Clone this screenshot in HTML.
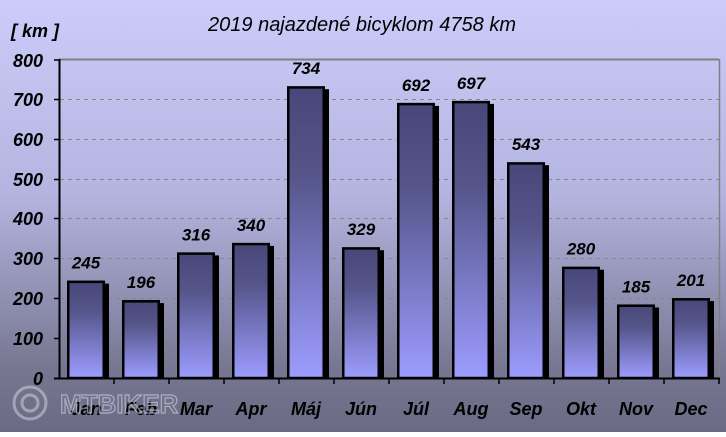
<!DOCTYPE html>
<html><head><meta charset="utf-8"><style>html,body{margin:0;padding:0}body{width:726px;height:432px;overflow:hidden}</style></head><body>
<svg width="726" height="432" xmlns="http://www.w3.org/2000/svg" font-family="Liberation Sans, sans-serif">
<defs>
<linearGradient id="bg" x1="0" y1="0" x2="0" y2="1">
<stop offset="0" stop-color="#ccccfa"/><stop offset="0.45" stop-color="#b4b4e0"/><stop offset="0.85" stop-color="#777792"/><stop offset="1" stop-color="#6a6a84"/></linearGradient>
<linearGradient id="bar" x1="0" y1="0" x2="0" y2="1">
<stop offset="0" stop-color="#47477a"/><stop offset="0.3" stop-color="#55558a"/><stop offset="1" stop-color="#9c9cff"/></linearGradient>
</defs>
<rect width="726" height="432" fill="url(#bg)"/>
<g stroke="#888" stroke-dasharray="4,4" stroke-width="1">
<line x1="60" x2="719" y1="99.5" y2="99.5"/><line x1="60" x2="719" y1="139.5" y2="139.5"/><line x1="60" x2="719" y1="179.5" y2="179.5"/><line x1="60" x2="719" y1="218.5" y2="218.5"/><line x1="60" x2="719" y1="258.5" y2="258.5"/><line x1="60" x2="719" y1="298.5" y2="298.5"/><line x1="60" x2="719" y1="338.5" y2="338.5"/>
</g>
<line x1="59" x2="719" y1="59.5" y2="59.5" stroke="#808080" stroke-width="2"/>
<line x1="719.5" x2="719.5" y1="59" y2="378" stroke="#808080" stroke-width="1.5"/>
<g fill="#000">
<rect x="71" y="283.6" width="38" height="94.4"/>
<rect x="126" y="303.1" width="38" height="74.9"/>
<rect x="181" y="255.4" width="38" height="122.6"/>
<rect x="236" y="245.9" width="38" height="132.1"/>
<rect x="291" y="89.2" width="38" height="288.8"/>
<rect x="346" y="250.2" width="38" height="127.8"/>
<rect x="401" y="105.9" width="38" height="272.1"/>
<rect x="456" y="103.9" width="38" height="274.1"/>
<rect x="511" y="165.2" width="38" height="212.8"/>
<rect x="566" y="269.7" width="38" height="108.3"/>
<rect x="621" y="307.5" width="38" height="70.5"/>
<rect x="676" y="301.1" width="38" height="76.9"/>
</g>
<g fill="url(#bar)" stroke="#000" stroke-width="2.5">
<rect x="68.25" y="281.8" width="35.5" height="96.2"/>
<rect x="123.25" y="301.3" width="35.5" height="76.7"/>
<rect x="178.25" y="253.6" width="35.5" height="124.4"/>
<rect x="233.25" y="244.1" width="35.5" height="133.9"/>
<rect x="288.25" y="87.4" width="35.5" height="290.6"/>
<rect x="343.25" y="248.4" width="35.5" height="129.6"/>
<rect x="398.25" y="104.1" width="35.5" height="273.9"/>
<rect x="453.25" y="102.1" width="35.5" height="275.9"/>
<rect x="508.25" y="163.4" width="35.5" height="214.6"/>
<rect x="563.25" y="267.9" width="35.5" height="110.1"/>
<rect x="618.25" y="305.7" width="35.5" height="72.3"/>
<rect x="673.25" y="299.3" width="35.5" height="78.7"/>
</g>
<g font-size="17" font-weight="bold" font-style="italic" text-anchor="middle" fill="#000">
<text x="86" y="268.6">245</text>
<text x="141" y="288.1">196</text>
<text x="196" y="240.4">316</text>
<text x="251" y="230.9">340</text>
<text x="306" y="74.2">734</text>
<text x="361" y="235.2">329</text>
<text x="416" y="90.9">692</text>
<text x="471" y="88.9">697</text>
<text x="526" y="150.2">543</text>
<text x="581" y="254.7">280</text>
<text x="636" y="292.5">185</text>
<text x="691" y="286.1">201</text>
</g>
<g font-size="18" font-weight="bold" font-style="italic" text-anchor="middle" fill="#000">
<text x="86" y="415">Jan</text><text x="141" y="415">Feb</text><text x="196" y="415">Mar</text><text x="251" y="415">Apr</text><text x="306" y="415">Máj</text><text x="361" y="415">Jún</text><text x="416" y="415">Júl</text><text x="471" y="415">Aug</text><text x="526" y="415">Sep</text><text x="581" y="415">Okt</text><text x="636" y="415">Nov</text><text x="691" y="415">Dec</text>
</g>
<line x1="59.5" x2="59.5" y1="59" y2="379" stroke="#000" stroke-width="2"/>
<line x1="54" x2="720" y1="378.5" y2="378.5" stroke="#000" stroke-width="2"/>
<g stroke="#000" stroke-width="1.5">
<line x1="54" x2="59" y1="60" y2="60"/><line x1="54" x2="59" y1="99.5" y2="99.5"/><line x1="54" x2="59" y1="139.5" y2="139.5"/><line x1="54" x2="59" y1="179.5" y2="179.5"/><line x1="54" x2="59" y1="218.5" y2="218.5"/><line x1="54" x2="59" y1="258.5" y2="258.5"/><line x1="54" x2="59" y1="298.5" y2="298.5"/><line x1="54" x2="59" y1="338.5" y2="338.5"/>
<line x1="114" x2="114" y1="378" y2="384"/><line x1="169" x2="169" y1="378" y2="384"/><line x1="224" x2="224" y1="378" y2="384"/><line x1="279" x2="279" y1="378" y2="384"/><line x1="334" x2="334" y1="378" y2="384"/><line x1="389" x2="389" y1="378" y2="384"/><line x1="444" x2="444" y1="378" y2="384"/><line x1="499" x2="499" y1="378" y2="384"/><line x1="554" x2="554" y1="378" y2="384"/><line x1="609" x2="609" y1="378" y2="384"/><line x1="664" x2="664" y1="378" y2="384"/><line x1="719" x2="719" y1="378" y2="384"/>
</g>
<g font-size="18" font-weight="bold" font-style="italic" text-anchor="end" fill="#000">
<text x="43" y="67">800</text><text x="43" y="106">700</text><text x="43" y="146">600</text><text x="43" y="186">500</text><text x="43" y="225">400</text><text x="43" y="265">300</text><text x="43" y="305">200</text><text x="43" y="345">100</text><text x="43" y="385">0</text>
</g>
<text x="11" y="37" font-size="18" font-weight="bold" font-style="italic">[ km ]</text>
<text x="362" y="31" font-size="20" font-style="italic" text-anchor="middle">2019 najazdené bicyklom 4758 km</text>
<g opacity="0.55" fill="none" stroke="#cfcfe0" stroke-width="3">
<circle cx="30" cy="403" r="16"/><circle cx="30" cy="403" r="8"/>
</g>
<text x="60" y="413" font-size="26" font-weight="bold" fill="none" stroke="#c8c8d8" stroke-width="1.2" opacity="0.7">MTBIKER</text>
</svg>
</body></html>
